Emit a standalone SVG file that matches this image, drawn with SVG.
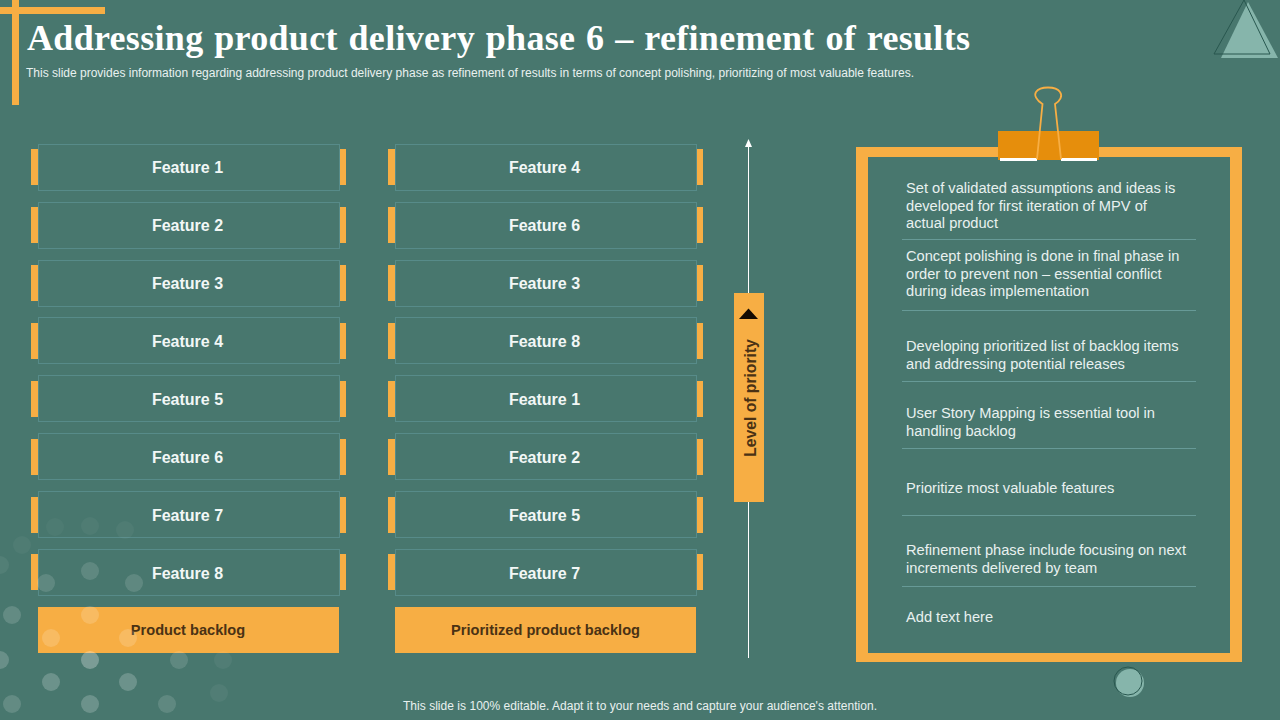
<svg xmlns="http://www.w3.org/2000/svg" width="1280" height="720" viewBox="0 0 1280 720">
<style>
text{font-family:"Liberation Sans",Arial,sans-serif}
.box{fill:none;stroke:#578b89;stroke-width:1}
.bar{fill:#f7ae44}
.f{font-size:16px;font-weight:700;fill:#f2f7f6;text-anchor:middle}
.l{font-size:14.600px;font-weight:700;fill:#4a3214;text-anchor:middle}
.b{font-size:14.650px;fill:#e9f1f0}
.sep{stroke:#679a97;stroke-width:1}
.dot{fill:#fff}
</style>
<rect width="1280" height="720" fill="#48776e"/>
<g id="corner-accent"><rect x="0" y="7" width="105" height="7" class="bar"/><rect x="12" y="0" width="7" height="105" class="bar"/></g>
<g id="triangle-accent"><path d="M1248 2 1278 58 1221 58Z" fill="#86b5ab"/><path d="M1244 0 1270 54 1214 54Z" fill="none" stroke="#28574f" stroke-width="1"/></g>
<g id="title">
<text x="27" y="50" font-size="36" font-weight="700" fill="#fff" word-spacing="1.500" textLength="943" style="font-family:'Liberation Serif',serif">Addressing product delivery phase 6 – refinement of results</text>
<text x="26" y="77" font-size="12" fill="#e9f1f0" textLength="888">This slide provides information regarding addressing product delivery phase as refinement of results in terms of concept polishing, prioritizing of most valuable features.</text>
</g>
<g id="backlog-column">
<g id="b1"><path class="bar" d="M31 149h7v36h-7zM339 149h7v36h-7z"/><rect class="box" x="38.500" y="144.500" width="301" height="46"/><text class="f" x="187.500" y="173">Feature 1</text></g>
<g id="b2"><path class="bar" d="M31 207h7v36h-7zM339 207h7v36h-7z"/><rect class="box" x="38.500" y="202.500" width="301" height="46"/><text class="f" x="187.500" y="231">Feature 2</text></g>
<g id="b3"><path class="bar" d="M31 265h7v36h-7zM339 265h7v36h-7z"/><rect class="box" x="38.500" y="260.500" width="301" height="46"/><text class="f" x="187.500" y="289">Feature 3</text></g>
<g id="b4"><path class="bar" d="M31 323h7v36h-7zM339 323h7v36h-7z"/><rect class="box" x="38.500" y="317.500" width="301" height="46"/><text class="f" x="187.500" y="347">Feature 4</text></g>
<g id="b5"><path class="bar" d="M31 381h7v36h-7zM339 381h7v36h-7z"/><rect class="box" x="38.500" y="375.500" width="301" height="46"/><text class="f" x="187.500" y="405">Feature 5</text></g>
<g id="b6"><path class="bar" d="M31 439h7v36h-7zM339 439h7v36h-7z"/><rect class="box" x="38.500" y="433.500" width="301" height="46"/><text class="f" x="187.500" y="463">Feature 6</text></g>
<g id="b7"><path class="bar" d="M31 497h7v36h-7zM339 497h7v36h-7z"/><rect class="box" x="38.500" y="491.500" width="301" height="46"/><text class="f" x="187.500" y="521">Feature 7</text></g>
<g id="b8"><path class="bar" d="M31 554h7v36h-7zM339 554h7v36h-7z"/><rect class="box" x="38.500" y="549.500" width="301" height="46"/><text class="f" x="187.500" y="579">Feature 8</text></g>
<g id="b-label"><rect class="bar" x="38" y="607" width="301" height="46"/><text class="l" x="188" y="635">Product backlog</text></g>
</g>
<g id="prioritized-column">
<g id="p1"><path class="bar" d="M388 149h7v36h-7zM696 149h7v36h-7z"/><rect class="box" x="395.500" y="144.500" width="301" height="46"/><text class="f" x="544.500" y="173">Feature 4</text></g>
<g id="p2"><path class="bar" d="M388 207h7v36h-7zM696 207h7v36h-7z"/><rect class="box" x="395.500" y="202.500" width="301" height="46"/><text class="f" x="544.500" y="231">Feature 6</text></g>
<g id="p3"><path class="bar" d="M388 265h7v36h-7zM696 265h7v36h-7z"/><rect class="box" x="395.500" y="260.500" width="301" height="46"/><text class="f" x="544.500" y="289">Feature 3</text></g>
<g id="p4"><path class="bar" d="M388 323h7v36h-7zM696 323h7v36h-7z"/><rect class="box" x="395.500" y="317.500" width="301" height="46"/><text class="f" x="544.500" y="347">Feature 8</text></g>
<g id="p5"><path class="bar" d="M388 381h7v36h-7zM696 381h7v36h-7z"/><rect class="box" x="395.500" y="375.500" width="301" height="46"/><text class="f" x="544.500" y="405">Feature 1</text></g>
<g id="p6"><path class="bar" d="M388 439h7v36h-7zM696 439h7v36h-7z"/><rect class="box" x="395.500" y="433.500" width="301" height="46"/><text class="f" x="544.500" y="463">Feature 2</text></g>
<g id="p7"><path class="bar" d="M388 497h7v36h-7zM696 497h7v36h-7z"/><rect class="box" x="395.500" y="491.500" width="301" height="46"/><text class="f" x="544.500" y="521">Feature 5</text></g>
<g id="p8"><path class="bar" d="M388 554h7v36h-7zM696 554h7v36h-7z"/><rect class="box" x="395.500" y="549.500" width="301" height="46"/><text class="f" x="544.500" y="579">Feature 7</text></g>
<g id="p-label"><rect class="bar" x="395" y="607" width="301" height="46"/><text class="l" x="545.500" y="635">Prioritized product backlog</text></g>
</g>
<g id="decor-dots" class="dot">
<circle cx="90" cy="571" r="9" opacity=".13"/><circle cx="46" cy="583" r="9" opacity=".13"/><circle cx="134" cy="583" r="9" opacity=".13"/>
<circle cx="12" cy="615" r="9" opacity=".15"/><circle cx="90" cy="615" r="9" opacity=".16"/><circle cx="51" cy="638" r="9" opacity=".16"/><circle cx="128" cy="638" r="9" opacity=".16"/>
<circle cx="0" cy="660" r="9" opacity=".18"/><circle cx="90" cy="660" r="9" opacity=".28"/><circle cx="179" cy="660" r="9" opacity=".13"/><circle cx="223" cy="660" r="9" opacity=".05"/>
<circle cx="51" cy="682" r="9" opacity=".2"/><circle cx="128" cy="682" r="9" opacity=".2"/><circle cx="12" cy="704" r="9" opacity=".15"/><circle cx="90" cy="704" r="9" opacity=".2"/><circle cx="167" cy="704" r="9" opacity=".13"/><circle cx="219" cy="693" r="9" opacity=".05"/>
<circle cx="90" cy="526" r="9" opacity=".04"/><circle cx="125" cy="530" r="9" opacity=".04"/><circle cx="22" cy="545" r="9" opacity=".04"/><circle cx="55" cy="527" r="9" opacity=".03"/><circle cx="0" cy="565" r="9" opacity=".06"/>
</g>
<g id="connectors"><line x1="748.500" y1="658" x2="748.500" y2="146" stroke="#fff" stroke-width="1"/><path d="M748.500 139 752 147H745Z" fill="#fff"/></g>
<g id="priority"><rect class="bar" x="734" y="293" width="30" height="209"/><path d="M748.500 308.500 758 319H739Z" fill="#140a02"/><text class="l" style="font-size:15.700px" transform="translate(755.500 398) rotate(-90)">Level of priority</text></g>
<g id="note">
<path fill="#f7ae44" fill-rule="evenodd" d="M856 147H1242V662H856ZM868 157V653H1230V157Z"/>
<g id="clip"><rect x="998" y="131" width="101" height="29" fill="#e68e0c"/><path d="M1000 158h37v3h-37zM1061 158h36v3h-36z" fill="#fff"/>
<path d="M1037 159 1042.500 104C1036 100 1034 95 1036 92 1040 86 1056 86 1060 92 1063 96 1060 101 1055 104L1061 159" fill="none" stroke="#f7ae44" stroke-width="1.800"/></g>
<g id="note-text">
<text class="b" x="906" y="193">Set of validated assumptions and ideas is</text><text class="b" x="906" y="211">developed for first iteration of MPV of</text><text class="b" x="906" y="228">actual product</text>
<text class="b" x="906" y="261">Concept polishing is done in final phase in</text><text class="b" x="906" y="279">order to prevent non – essential conflict</text><text class="b" x="906" y="296">during ideas implementation</text>
<text class="b" x="906" y="351">Developing prioritized list of backlog items</text><text class="b" x="906" y="369">and addressing potential releases</text>
<text class="b" x="906" y="418">User Story Mapping is essential tool in</text><text class="b" x="906" y="436">handling backlog</text>
<text class="b" x="906" y="493">Prioritize most valuable features</text>
<text class="b" x="906" y="555">Refinement phase include focusing on next</text><text class="b" x="906" y="573">increments delivered by team</text>
<text class="b" x="906" y="622">Add text here</text>
</g>
<g class="sep"><line x1="902" y1="239.500" x2="1196" y2="239.500"/><line x1="902" y1="310.500" x2="1196" y2="310.500"/><line x1="902" y1="381.500" x2="1196" y2="381.500"/><line x1="902" y1="448.500" x2="1196" y2="448.500"/><line x1="902" y1="515.500" x2="1196" y2="515.500"/><line x1="902" y1="586.500" x2="1196" y2="586.500"/></g>
</g>
<g id="circle-accent"><circle cx="1130" cy="683" r="14" fill="#86b5ab"/><circle cx="1128" cy="681" r="14" fill="none" stroke="#28574f" stroke-width="1"/></g>
<text id="footer" x="403" y="710" font-size="12" fill="#e9f1f0" textLength="474">This slide is 100% editable. Adapt it to your needs and capture your audience's attention.</text>
</svg>
